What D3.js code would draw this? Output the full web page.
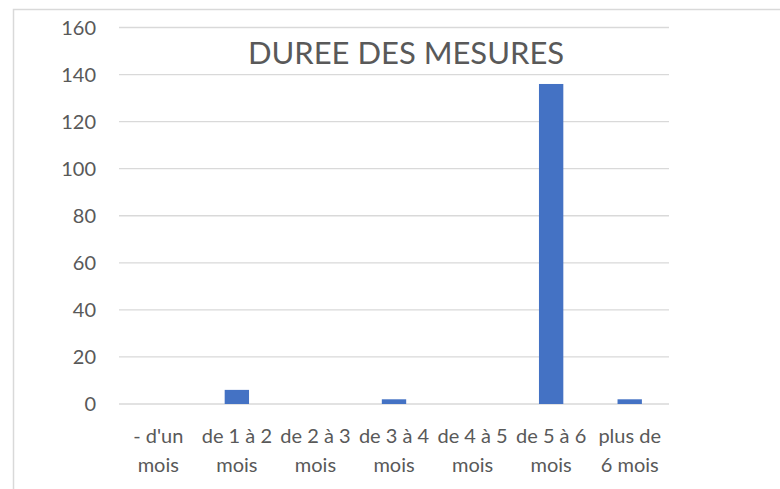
<!DOCTYPE html>
<html lang="fr">
  <head>
    <meta charset="utf-8">
    <title>Duree des mesures</title>
    <script src="https://d3js.org/d3.v7.min.js"></script>
    <style>
    body { margin: 0; background: #fff; }
    svg text { font-family: Lato, "Open Sans", sans-serif; fill: #595959; }
    .grid line { stroke: #d9d9d9; stroke-width: 1.3; }
    .bar { fill: #4472c4; }
    </style>
  </head>
  <body>
    <svg width="780" height="489" id="chart"></svg>
    <script>
    // data
    var categories = ["- d'un\nmois", "de 1 à 2\nmois", "de 2 à 3\nmois", "de 3 à 4\nmois",
                      "de 4 à 5\nmois", "de 5 à 6\nmois", "plus de\n6 mois"];
    var values = [0, 6, 0, 2, 0, 136, 2];
    var yTicks = [0, 20, 40, 60, 80, 100, 120, 140, 160];
    var title = "DUREE DES MESURES";

    var svg = d3.select("#chart");

    // chart frame (only top and left edges are visible in the crop)
    svg.append("path")
        .attr("d", "M13.5,489V9.5H780")
        .attr("fill", "none")
        .attr("stroke", "#d9d9d9")
        .attr("stroke-width", 1.5);

    var plotLeft = 119, plotRight = 669, plotTop = 27.5, plotBottom = 404;

    var x = d3.scaleBand()
        .domain(categories)
        .range([plotLeft, plotRight])
        .paddingInner(0.69)
        .paddingOuter(0.345);

    var y = d3.scaleLinear()
        .domain([0, 160])
        .range([plotBottom, plotTop]);

    // gridlines
    svg.append("g")
        .attr("class", "grid")
      .selectAll("line")
      .data(yTicks)
      .enter().append("line")
        .attr("x1", plotLeft)
        .attr("x2", plotRight)
        .attr("y1", function(d) { return y(d); })
        .attr("y2", function(d) { return y(d); });

    // y labels
    svg.append("g")
      .selectAll("text")
      .data(yTicks)
      .enter().append("text")
        .attr("x", 96)
        .attr("y", function(d) { return y(d); })
        .attr("dy", "0.36em")
        .attr("text-anchor", "end")
        .style("font-size", "20px")
        .text(function(d) { return d; });

    // bars
    svg.selectAll(".bar")
      .data(values)
      .enter().append("rect")
        .attr("class", "bar")
        .attr("x", function(d, i) { return x(categories[i]); })
        .attr("y", function(d) { return y(d); })
        .attr("width", x.bandwidth())
        .attr("height", function(d) { return plotBottom - y(d); });

    // x labels, two lines each
    var xl = svg.append("g")
      .selectAll("text")
      .data(categories)
      .enter().append("text")
        .attr("text-anchor", "middle")
        .style("font-size", "20px")
        .attr("transform", function(d) {
          return "translate(" + (x(d) + x.bandwidth() / 2) + ",0)";
        });
    xl.selectAll("tspan")
      .data(function(d) { return d.split("\n"); })
      .enter().append("tspan")
        .attr("x", 0)
        .attr("y", function(d, i) { return 443 + i * 29; })
        .text(function(d) { return d; });

    // title
    svg.append("text")
        .attr("x", 406)
        .attr("y", 64)
        .attr("text-anchor", "middle")
        .style("font-size", "31px")
        .text(title);
    </script>
  </body>
</html>
